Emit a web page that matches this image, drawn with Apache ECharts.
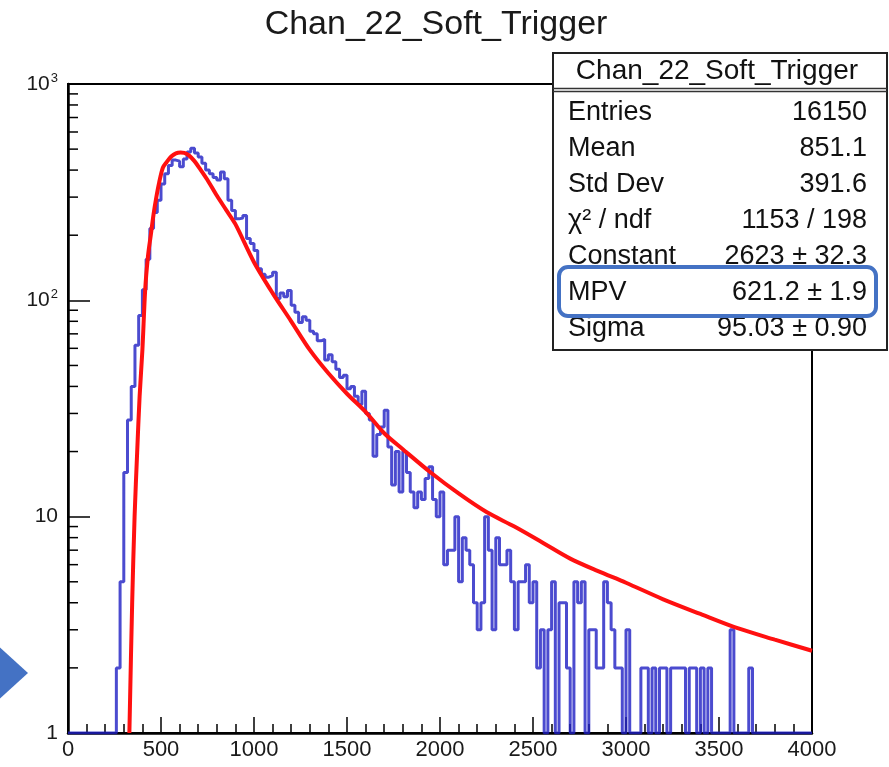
<!DOCTYPE html>
<html>
<head>
<meta charset="utf-8">
<script src="https://cdn.jsdelivr.net/npm/echarts@6/dist/echarts.min.js"></script>
<style>
  html, body { margin: 0; padding: 0; background: #fff; }
  #chart { width: 889px; height: 767px; }
</style>
</head>
<body>
<div id="chart"></div>
<script>
// ---------------- data ----------------
const chartTitle = 'Chan_22_Soft_Trigger';
const binStart = 0;
const binWidth = 20;
// histogram bin contents (bins of 20 from 0 to 4000); empty bins drawn at the axis floor (1)
const histCounts = [
  1,1,1,1,1,1,1,1,1,1,1,1,1,2,5,16,28,40,62,85,
  112,155,215,255,290,345,385,420,445,440,415,450,485,505,480,460,430,400,385,370,
  360,392,365,290,260,238,240,247,193,183,170,140,132,128,130,135,102,108,104,111,
  95,88,79,84,81,72,70,65,66,53,56,52,48,44,45,39,40,36,33,38,
  30,28,19,24,26,31,21,14,20,13,20,16,13,11,13,12,15,17,12,10,
  13,6,7,7,10,5,8,7,6,4,3,4,10,7,3,8,6,6,7,5,
  3,5,5,6,4,5,2,3,1,3,5,1,4,4,2,1,5,4,5,1,
  3,3,2,2,5,4,3,2,2,1,3,1,1,1,2,2,1,2,1,2,
  2,1,2,2,2,2,1,2,2,1,2,1,2,1,1,1,1,1,3,1,
  1,1,1,2,1,1,1,1,1,1,1,1,1,1,1,1,1,1,1,1
];
// Landau fit curve
const fitX = [330,345,358,372,385,400,415,430,445,460,475,490,510,530,555,580,605,625,650,680,710,750,800,850,900,1000,1100,1200,1300,1400,1500,1600,1700,1800,1950,2100,2250,2400,2550,2700,2850,3000,3200,3400,3600,3800,4000];
const fitY = [1,4,10,20,36,59,112,160,200,250,300,350,410,435,462,478,482,480,468,440,405,360,305,262,225,150,108,80,59,46,37,30.5,24.3,20.5,16,12.8,10.5,9.0,7.6,6.4,5.6,4.95,4.15,3.55,3.05,2.7,2.4];
const xTicks = { min: 0, max: 4000, interval: 500 };
const yRange = { min: 1, max: 1000 };
const yMinorTicks = [2,3,4,5,6,7,8,9,20,30,40,50,60,70,80,90,200,300,400,500,600,700,800,900];
const statsTitle = 'Chan_22_Soft_Trigger';
const statsLabels = ['Entries','Mean','Std Dev','\u03C7\u00B2 / ndf','Constant','MPV','Sigma'];
const statsValues = ['16150','851.1','391.6','1153 / 198','2623 \u00B1 32.3','621.2 \u00B1 1.9','95.03 \u00B1 0.90'];

// ---------------- build ----------------
const histData = histCounts.map((c, i) => [binStart + i * binWidth, c]);
histData.push([binStart + histCounts.length * binWidth, histCounts[histCounts.length - 1]]);
const fitData = fitX.map((x, i) => [x, fitY[i]]);

const FONT = '"Liberation Sans", Arial, Helvetica, sans-serif';
const chart = echarts.init(document.getElementById('chart'), null, { renderer: 'canvas' });

const statsGraphics = [];
const boxX = 553, boxY = 53, boxW = 334, boxH = 297;
statsGraphics.push({ type: 'rect', z: 100, shape: { x: boxX, y: boxY, width: boxW, height: boxH }, style: { fill: '#fff', stroke: '#222', lineWidth: 2 } });
statsGraphics.push({ type: 'line', z: 101, shape: { x1: boxX, y1: 88.5, x2: boxX + boxW, y2: 88.5 }, style: { stroke: '#333', lineWidth: 1.5 } });
statsGraphics.push({ type: 'line', z: 101, shape: { x1: boxX, y1: 91.5, x2: boxX + boxW, y2: 91.5 }, style: { stroke: '#333', lineWidth: 1.5 } });
statsGraphics.push({ type: 'text', z: 102, style: { text: statsTitle, x: 717, y: 71, fill: '#111', font: '28px ' + FONT, textAlign: 'center', textVerticalAlign: 'middle' } });
statsLabels.forEach((lab, i) => {
  const y = 113 + i * 36;
  const zz = (lab === 'MPV') ? 120 : 102;
  statsGraphics.push({ type: 'text', z: zz, style: { text: lab, x: 568, y: y, fill: '#111', font: '27px ' + FONT, textAlign: 'left', textVerticalAlign: 'middle' } });
  statsGraphics.push({ type: 'text', z: zz, style: { text: statsValues[i], x: 867, y: y, fill: '#111', font: '27px ' + FONT, textAlign: 'right', textVerticalAlign: 'middle' } });
});
// highlight box around MPV row
statsGraphics.push({ type: 'rect', z: 110, shape: { x: 559, y: 267, width: 317, height: 49, r: 9 }, style: { fill: '#fff', stroke: '#4472C4', lineWidth: 4 } });
// arrow at the left edge
statsGraphics.push({ type: 'polygon', z: 100, shape: { points: [[-6, 642], [28, 673], [-6, 704]] }, style: { fill: '#4472C4' } });

const option = {
  backgroundColor: '#fff',
  animation: false,
  title: {
    text: chartTitle,
    left: 436, top: 8, textAlign: 'center', padding: 0,
    textStyle: { fontFamily: FONT, fontSize: 34, fontWeight: 'normal', color: '#1a1a1a' }
  },
  grid: { left: 68, right: 77, top: 84, bottom: 34, show: true, borderColor: '#000', borderWidth: 2, backgroundColor: 'transparent' },
  xAxis: {
    type: 'value', min: xTicks.min, max: xTicks.max, interval: xTicks.interval,
    axisLine: { show: true, lineStyle: { color: '#000', width: 2.5 } },
    axisTick: { show: true, inside: true, length: 16, lineStyle: { color: '#000', width: 1.5 } },
    minorTick: { show: true, splitNumber: 5, length: 9, lineStyle: { color: '#000', width: 1.5 } },
    splitLine: { show: false },
    axisLabel: {
      fontFamily: FONT, fontSize: 22, color: '#1a1a1a', margin: 6, showMinLabel: true, showMaxLabel: true,
      formatter: function (v) { return String(Math.round(v)); }
    }
  },
  yAxis: {
    type: 'log', logBase: 10, min: yRange.min, max: yRange.max,
    axisLine: { show: true, lineStyle: { color: '#000', width: 2.5 } },
    axisTick: { show: true, inside: true, length: 22, lineStyle: { color: '#000', width: 1.5 } },
    splitLine: { show: false },
    axisLabel: {
      margin: 10, fontFamily: FONT, fontSize: 21, color: '#1a1a1a',
      formatter: function (v) {
        const p = Math.round(Math.log10(v));
        if (p === 0) return '1';
        if (p === 1) return '10';
        return '{b|10}{s|' + p + '}';
      },
      rich: {
        b: { fontFamily: FONT, fontSize: 21, color: '#1a1a1a', lineHeight: 24 },
        s: { fontFamily: FONT, fontSize: 13, color: '#1a1a1a', verticalAlign: 'top', lineHeight: 24, padding: [0, 0, 8, 1] }
      }
    }
  },
  series: [
    {
      name: 'hist', type: 'line', step: 'end', data: histData, showSymbol: false,
      lineStyle: { color: 'rgba(30,30,195,0.8)', width: 3 }, z: 3, clip: true
    },
    {
      name: 'fit', type: 'line', data: fitData, showSymbol: false, smooth: 0.3,
      lineStyle: { color: '#ff1010', width: 4 }, z: 4, clip: true
    },
    {
      name: 'yMinor', type: 'custom', silent: true, z: 6, clip: false,
      data: yMinorTicks.map(v => [xTicks.min, v]),
      encode: { x: 0, y: 1 },
      renderItem: function (params, api) {
        const p = api.coord([api.value(0), api.value(1)]);
        return { type: 'line', shape: { x1: p[0], y1: p[1], x2: p[0] + 10, y2: p[1] }, style: { stroke: '#000', lineWidth: 1.5 } };
      }
    }
  ],
  graphic: { elements: statsGraphics }
};
chart.setOption(option);
</script>
</body>
</html>
